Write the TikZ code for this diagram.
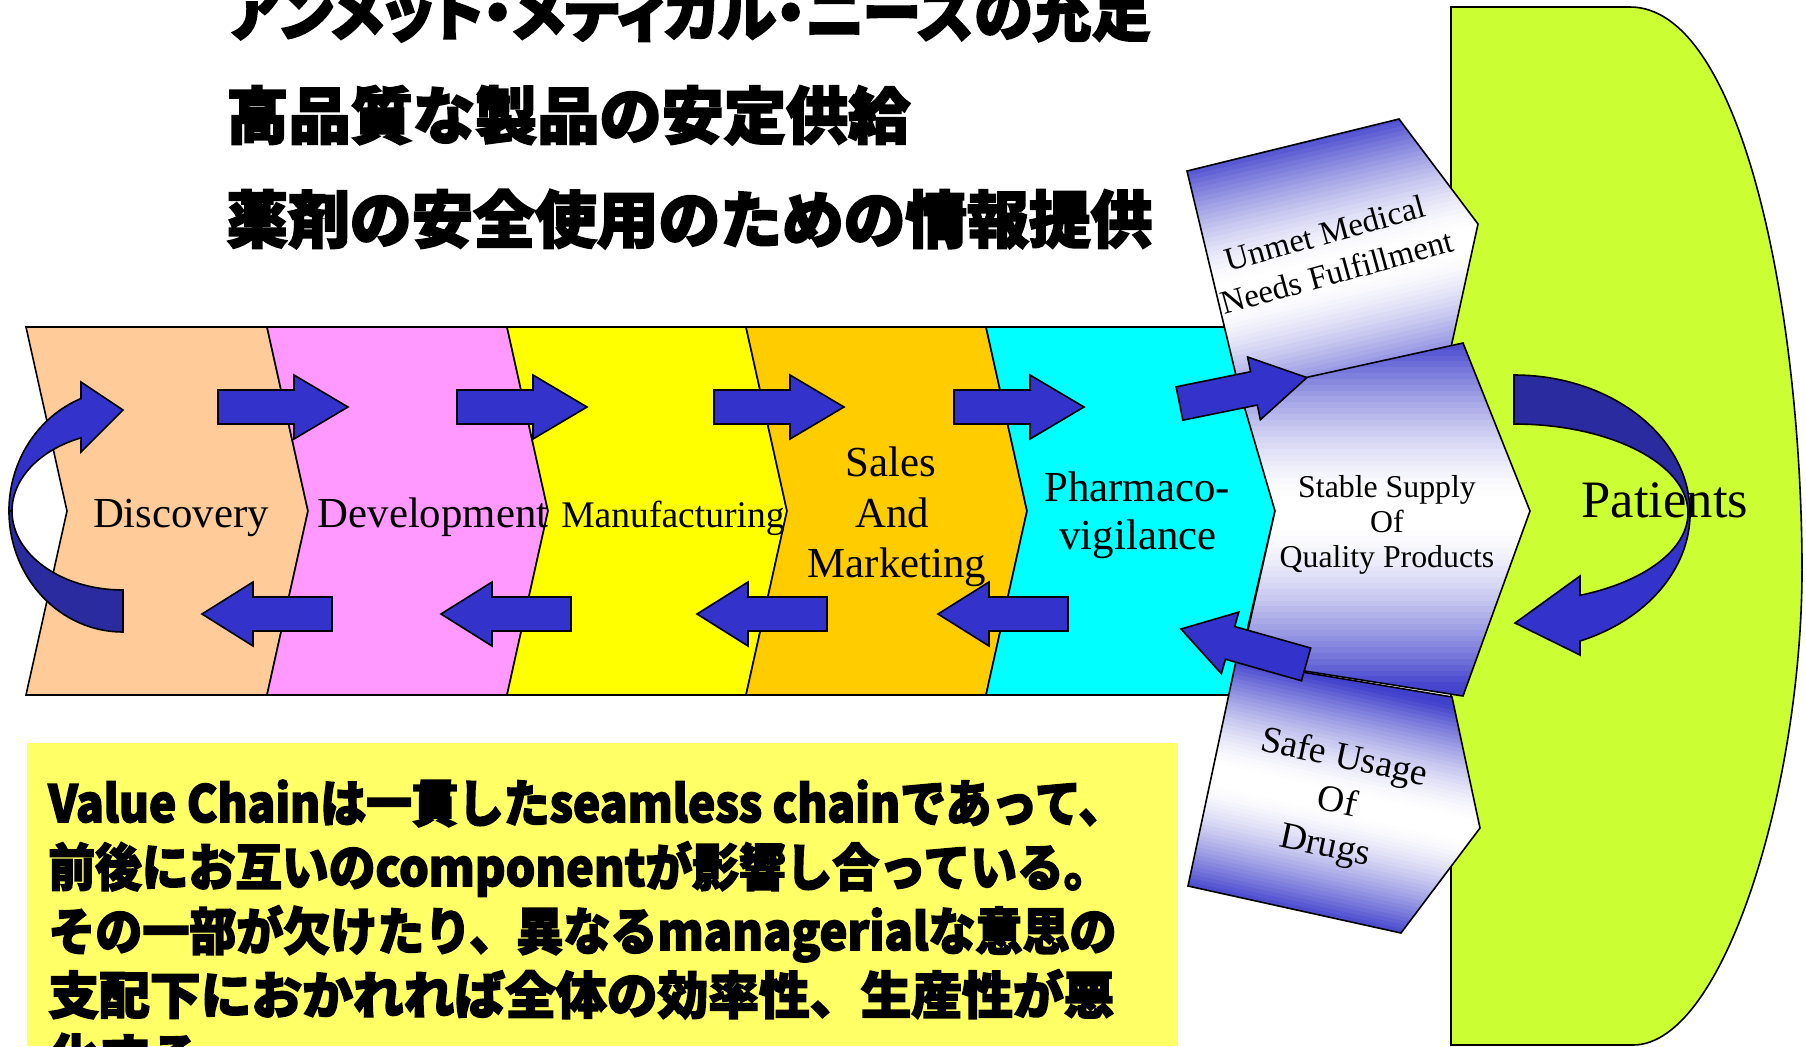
\documentclass[tikz,border=0pt]{standalone}
\usepackage{fontspec}
\usepackage{graphicx}
\setmainfont{Liberation Serif}
\newfontfamily\jp{Noto Sans CJK JP}[BoldFeatures={FakeBold=3}]
\newfontfamily\jpp{Noto Sans CJK JP}[RawFeature=+palt, BoldFeatures={FakeBold=3}]
\definecolor{disc}{HTML}{FFCC99}
\definecolor{dev}{HTML}{FF99FF}
\definecolor{manu}{HTML}{FFFF00}
\definecolor{sales}{HTML}{FFCC00}
\definecolor{pharma}{HTML}{00FFFF}
\definecolor{pat}{HTML}{CCFF33}
\definecolor{arrowblue}{HTML}{3333CC}
\definecolor{arrowdark}{HTML}{2B2BA0}
\definecolor{gblue}{HTML}{4040CC}
\definecolor{boxyellow}{HTML}{FFFF66}
% manual gradient band: #1 cx, #2 cy, #3 angle, #4 half height
\newcommand{\myGradBand}[4]{%
  \begin{scope}[rotate around={#3:(#1,#2)}]
    \foreach \i in {0,...,59} {
      \pgfmathsetmacro{\stp}{2*#4/60}
      \pgfmathsetmacro{\va}{-#4 + \i*\stp}
      \pgfmathsetmacro{\vb}{\va + \stp + 1.5}
      \pgfmathsetmacro{\vm}{abs(\va + \stp/2)}
      \pgfmathsetmacro{\tq}{max(0.001, (\vm/#4 - 0.08)/0.92)}
      \pgfmathsetmacro{\pc}{min(100, 100*pow(\tq,1.5))}
      \fill[gblue!\pc!white] (#1-340, #2+\va) rectangle (#1+340, #2+\vb);
    }
  \end{scope}}
\begin{document}
\begin{tikzpicture}[x=0.5pt, y=-0.5pt,
  outl/.style={draw=black, line width=0.8pt, line join=miter},
  stage/.style={outl},
  blk/.style={outl, fill=arrowblue},
  cdark/.style={outl, fill=arrowdark},
  clight/.style={outl, fill=arrowblue},
  lbl/.style={inner sep=0pt, anchor=base, text=black},
  jtxt/.style={inner sep=0pt, anchor=base west, text=black},
  pics/rarr/.style={code={\draw[blk] (0,-17) -- (76,-17) -- (76,-32) -- (130,0) -- (76,32) -- (76,17) -- (0,17) -- cycle;}},
  pics/larr/.style={code={\draw[blk] (0,0) -- (51,-32) -- (51,-17) -- (130,-17) -- (130,17) -- (51,17) -- (51,32) -- cycle;}}
]
\useasboundingbox (0,0) rectangle (1806,1046);
\clip (0,0) rectangle (1806,1046);

% title lines
\node[jtxt] (t1) at (226,35.6) {\fontsize{31pt}{36pt}\selectfont\jpp\bfseries\resizebox{462pt}{\height}{アンメット・メディカル・ニーズの充足}};
\node[jtxt] (t2) at (226,138.6) {\fontsize{31pt}{36pt}\selectfont\jp\bfseries\resizebox{342pt}{\height}{高品質な製品の安定供給}};
\node[jtxt] (t3) at (226,242.6) {\fontsize{31pt}{36pt}\selectfont\jp\bfseries\resizebox{463pt}{\height}{薬剤の安全使用のための情報提供}};

% yellow box
\fill[boxyellow] (27,743) rectangle (1178,1046);
\node[jtxt] (b1) at (48,822) {\fontsize{25.4pt}{30pt}\selectfont\jp\bfseries\resizebox{538pt}{\height}{Value Chainは一貫したseamless chainであって、}};
\node[jtxt] (b2) at (48,886) {\fontsize{25.4pt}{30pt}\selectfont\jp\bfseries\resizebox{531pt}{\height}{前後にお互いのcomponentが影響し合っている。}};
\node[jtxt] (b3) at (48,950) {\fontsize{25.4pt}{30pt}\selectfont\jp\bfseries\resizebox{534pt}{\height}{その一部が欠けたり、異なるmanagerialな意思の}};
\node[jtxt] (b4) at (48,1014) {\fontsize{25.4pt}{30pt}\selectfont\jp\bfseries\resizebox{533pt}{\height}{支配下におかれれば全体の効率性、生産性が悪}};
\node[jtxt] (b5) at (48,1076) {\fontsize{25.4pt}{30pt}\selectfont\jp\bfseries 化する。};

% patients shape
\draw[outl, fill=pat] (1451,7) -- (1630,7) .. controls (1740,7) and (1800,300) .. (1802,560) .. controls (1804,780) and (1725,1045) .. (1633,1045) -- (1451,1045) -- cycle;

% value chain stages
\draw[stage, fill=disc] (26,327) -- (267,327) -- (308,511) -- (267,695) -- (26,695) -- (67,511) -- cycle;
\draw[stage, fill=dev] (267,327) -- (507,327) -- (548,511) -- (507,695) -- (267,695) -- (308,511) -- cycle;
\draw[stage, fill=manu] (507,327) -- (746,327) -- (787,511) -- (746,695) -- (507,695) -- (548,511) -- cycle;
\draw[stage, fill=sales] (746,327) -- (986,327) -- (1027,511) -- (986,695) -- (746,695) -- (787,511) -- cycle;
\draw[stage, fill=pharma] (986,327) -- (1232,327) -- (1275,511) -- (1232,695) -- (986,695) -- (1027,511) -- cycle;

% Unmet shape
\begin{scope}
  \clip (1187,171) -- (1399,119) -- (1478,224) -- (1450,352) -- (1240,392) -- cycle;
  \fill[gblue] (1150,100) rectangle (1500,420);
  \myGradBand{1330}{272}{13}{140}
\end{scope}
\draw[outl] (1187,171) -- (1399,119) -- (1478,224) -- (1450,352) -- (1240,392) -- cycle;

% Safe shape
\begin{scope}
  \clip (1236,661) -- (1452,697) -- (1480,828) -- (1401,933) -- (1188,886) -- cycle;
  \fill[gblue] (1150,640) rectangle (1500,950);
  \myGradBand{1330}{800}{-12.4}{118}
\end{scope}
\draw[outl] (1236,661) -- (1452,697) -- (1480,828) -- (1401,933) -- (1188,886) -- cycle;

% Stable shape
\begin{scope}
  \clip (1240,392) -- (1463,343) -- (1530,511) -- (1463,696) -- (1241,661) -- (1275,511) -- cycle;
  \fill[gblue] (1230,330) rectangle (1540,710);
  \myGradBand{1385}{513}{0}{175}
\end{scope}
\draw[outl] (1240,392) -- (1463,343) -- (1530,511) -- (1463,696) -- (1241,661) -- (1275,511) -- cycle;

% block arrows
\pic at (218,407) {rarr};
\pic at (457,407) {rarr};
\pic at (714,407) {rarr};
\pic at (954,407) {rarr};
\pic at (202,614) {larr};
\pic at (441,614) {larr};
\pic at (697,614) {larr};
\pic at (938,614) {larr};
\pic[rotate=11.5] at (1179.5,403.5) {rarr};
\pic[rotate=-15.8] at (1181,629) {larr};

% left curved arrow
\draw[cdark] (123,590) arc[start angle=90, end angle=180, x radius=111, y radius=79] -- (9,511) arc[start angle=180, end angle=90, x radius=114, y radius=121] -- cycle;
\draw[clight] (12,511) arc[start angle=180, end angle=247.8, x radius=111, y radius=79] -- (81,452) -- (123,410) -- (81,382) -- (81,398.5) arc[start angle=248.4, end angle=180, x radius=114, y radius=121] -- cycle;

% right curved arrow
\draw[cdark] (1514,424) arc[start angle=270, end angle=360, x radius=174, y radius=89] -- (1690,513) arc[start angle=0, end angle=-90, x radius=176, y radius=138] -- cycle;
\draw[clight] (1688,513) arc[start angle=0, end angle=67.7, x radius=174, y radius=89] -- (1580,576) -- (1515,623) -- (1580,655) -- (1580,641) arc[start angle=68, end angle=0, x radius=176, y radius=138] -- cycle;

% stage labels
\node[lbl, font=\fontsize{21.4pt}{25pt}\selectfont] (ldisc) at (181,527) {Discovery};
\node[lbl, font=\fontsize{21.4pt}{25pt}\selectfont] (ldev) at (433,527) {Development};
\node[lbl, font=\fontsize{18.8pt}{22pt}\selectfont] (lmanu) at (673,527) {Manufacturing};
\node[lbl, font=\fontsize{21.4pt}{25pt}\selectfont] (ls1) at (891,476) {Sales};
\node[lbl, font=\fontsize{21.4pt}{25pt}\selectfont] (ls2) at (892,527) {And};
\node[lbl, font=\fontsize{21.4pt}{25pt}\selectfont] (ls3) at (897,577) {Marketing};
\node[lbl, font=\fontsize{21.4pt}{25pt}\selectfont] (lp1) at (1137,501) {Pharmaco-};
\node[lbl, font=\fontsize{21.4pt}{25pt}\selectfont] (lp2) at (1138,549) {vigilance};
\node[lbl, font=\fontsize{26.3pt}{30pt}\selectfont] (lpat) at (1665,517) {Patients};
\node[lbl, font=\fontsize{15.9pt}{19pt}\selectfont] (lst1) at (1387,497) {Stable Supply};
\node[lbl, font=\fontsize{15.9pt}{19pt}\selectfont] (lst2) at (1387,532) {Of};
\node[lbl, font=\fontsize{15.9pt}{19pt}\selectfont] (lst3) at (1387,567) {Quality Products};
\node[lbl, rotate=15.5, font=\fontsize{16.5pt}{19pt}\selectfont] (lu1) at (1328,244) {Unmet Medical};
\node[lbl, rotate=15.5, font=\fontsize{16.5pt}{19pt}\selectfont] (lu2) at (1340,283) {Needs Fulfillment};
\node[lbl, rotate=-12, font=\fontsize{18.7pt}{22pt}\selectfont] (lsf1) at (1342,768) {Safe Usage};
\node[lbl, rotate=-12, font=\fontsize{18.7pt}{22pt}\selectfont] (lsf2) at (1335,813) {Of};
\node[lbl, rotate=-12, font=\fontsize{18.7pt}{22pt}\selectfont] (lsf3) at (1323,856) {Drugs};
\end{tikzpicture}
\end{document}
